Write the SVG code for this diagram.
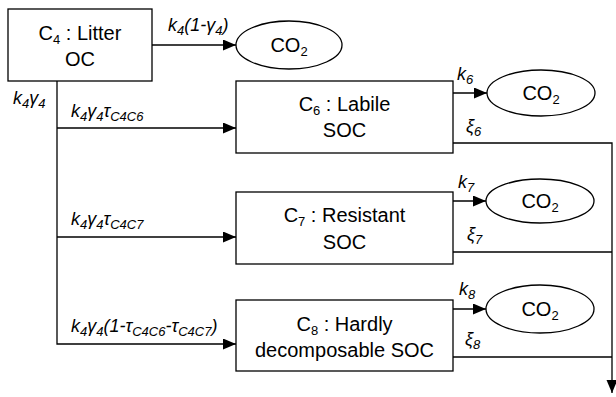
<svg xmlns="http://www.w3.org/2000/svg" width="616" height="397" viewBox="0 0 616 397">
<style>
.box{fill:#fff;stroke:#000;stroke-width:1.3}
.ell{fill:#fff;stroke:#000;stroke-width:1.3}
.ln{fill:none;stroke:#000;stroke-width:1.3}
.t{font-family:"Liberation Sans",Arial,sans-serif;font-size:20px;fill:#000;text-anchor:middle}
.lb{font-family:"Liberation Sans",Arial,sans-serif;font-size:18px;font-style:italic;fill:#000}
.s{font-size:13px}
</style>
<defs>
<marker id="ah" markerUnits="userSpaceOnUse" markerWidth="14" markerHeight="12" refX="13" refY="5.5" orient="auto">
<path d="M0,0 L13,5.5 L0,11 Z" fill="#000"/>
</marker>
</defs>
<g id="connectors">
<line class="ln" x1="152" y1="45" x2="236" y2="45" marker-end="url(#ah)"/>
<polyline class="ln" points="57,81 57,344 236,344" marker-end="url(#ah)"/>
<line class="ln" x1="57" y1="128" x2="236" y2="128" marker-end="url(#ah)"/>
<line class="ln" x1="57" y1="237" x2="236" y2="237" marker-end="url(#ah)"/>
<line class="ln" x1="453" y1="93" x2="487" y2="93" marker-end="url(#ah)"/>
<line class="ln" x1="453" y1="201" x2="486" y2="201" marker-end="url(#ah)"/>
<line class="ln" x1="453" y1="309" x2="486" y2="309" marker-end="url(#ah)"/>
<polyline class="ln" points="453,143 612,143 612,393" marker-end="url(#ah)"/>
<line class="ln" x1="453" y1="252" x2="612" y2="252"/>
<line class="ln" x1="453" y1="357" x2="612" y2="357"/>
<text class="lb" x="168" y="31">k<tspan class="s" dy="4">4</tspan><tspan dy="-4">(1-γ</tspan><tspan class="s" dy="4">4</tspan><tspan dy="-4">)</tspan></text>
<text class="lb" x="13" y="104">k<tspan class="s" dy="4">4</tspan><tspan dy="-4">γ</tspan><tspan class="s" dy="4">4</tspan></text>
<text class="lb" x="71" y="117">k<tspan class="s" dy="4">4</tspan><tspan dy="-4">γ</tspan><tspan class="s" dy="4">4</tspan><tspan dy="-4">τ</tspan><tspan class="s" dy="4">C4C6</tspan></text>
<text class="lb" x="71" y="225">k<tspan class="s" dy="4">4</tspan><tspan dy="-4">γ</tspan><tspan class="s" dy="4">4</tspan><tspan dy="-4">τ</tspan><tspan class="s" dy="4">C4C7</tspan></text>
<text class="lb" x="71" y="332">k<tspan class="s" dy="4">4</tspan><tspan dy="-4">γ</tspan><tspan class="s" dy="4">4</tspan><tspan dy="-4">(1-τ</tspan><tspan class="s" dy="4">C4C6</tspan><tspan dy="-4">-τ</tspan><tspan class="s" dy="4">C4C7</tspan><tspan dy="-4">)</tspan></text>
<text class="lb" x="457" y="80">k<tspan class="s" dy="4">6</tspan></text>
<text class="lb" x="466" y="132">ξ<tspan class="s" dy="4">6</tspan></text>
<text class="lb" x="458" y="188">k<tspan class="s" dy="4">7</tspan></text>
<text class="lb" x="467" y="240">ξ<tspan class="s" dy="4">7</tspan></text>
<text class="lb" x="459" y="295">k<tspan class="s" dy="4">8</tspan></text>
<text class="lb" x="465" y="345">ξ<tspan class="s" dy="4">8</tspan></text>
</g>
<g id="c4">
<rect class="box" x="8" y="9" width="144" height="72"/>
<text class="t" x="80" y="40">C<tspan class="s" dy="4">4</tspan><tspan dy="-4"> : Litter</tspan></text>
<text class="t" x="80" y="66">OC</text>
</g>
<g id="co2a">
<ellipse class="ell" cx="289" cy="45" rx="53" ry="24"/>
<text class="t" x="289" y="52">CO<tspan class="s" dy="4">2</tspan></text>
</g>
<g id="c6">
<rect class="box" x="236" y="81" width="217" height="72"/>
<text class="t" x="344.5" y="111">C<tspan class="s" dy="4">6</tspan><tspan dy="-4"> : Labile</tspan></text>
<text class="t" x="344.5" y="137">SOC</text>
</g>
<g id="co2b">
<ellipse class="ell" cx="541" cy="93" rx="54" ry="23"/>
<text class="t" x="541" y="100">CO<tspan class="s" dy="4">2</tspan></text>
</g>
<g id="c7">
<rect class="box" x="236" y="192" width="217" height="72"/>
<text class="t" x="344.5" y="222">C<tspan class="s" dy="4">7</tspan><tspan dy="-4"> : Resistant</tspan></text>
<text class="t" x="344.5" y="249">SOC</text>
</g>
<g id="co2c">
<ellipse class="ell" cx="540" cy="201" rx="54" ry="22"/>
<text class="t" x="540" y="208">CO<tspan class="s" dy="4">2</tspan></text>
</g>
<g id="c8">
<rect class="box" x="236" y="300" width="217" height="71"/>
<text class="t" x="344.5" y="331">C<tspan class="s" dy="4">8</tspan><tspan dy="-4"> : Hardly</tspan></text>
<text class="t" x="344.5" y="357">decomposable SOC</text>
</g>
<g id="co2d">
<ellipse class="ell" cx="540" cy="309" rx="54" ry="24"/>
<text class="t" x="540" y="316">CO<tspan class="s" dy="4">2</tspan></text>
</g>
</svg>
